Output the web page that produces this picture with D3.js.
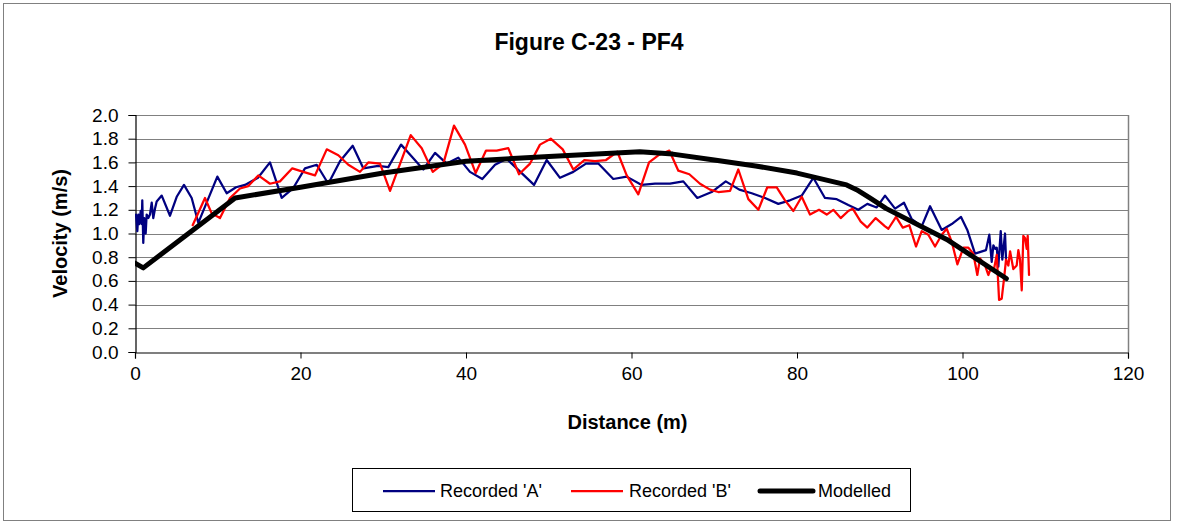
<!DOCTYPE html>
<html>
<head>
<meta charset="utf-8">
<script src="https://cdn.jsdelivr.net/npm/d3@7"></script>
<style>
  html, body { margin: 0; padding: 0; background: #fff; }
  svg { display: block; font-family: Arial, "Liberation Sans", sans-serif; }
</style>
</head>
<body>
<svg id="chart" width="1179" height="525"></svg>
<script>
// Velocity profile PF4: two recorded traverses and the modelled curve
const chartTitle = "Figure C-23 - PF4";
const xTitle = "Distance (m)";
const yTitle = "Velocity (m/s)";
const seriesNames = ["Recorded 'A'", "Recorded 'B'", "Modelled"];
const xTicks = [0, 20, 40, 60, 80, 100, 120];
const yTicks = [0.0, 0.2, 0.4, 0.6, 0.8, 1.0, 1.2, 1.4, 1.6, 1.8, 2.0];

const distA = [0.12, 0.28, 0.40, 0.52, 0.69, 0.81, 0.88, 1.00, 1.12, 1.29, 1.41, 1.61, 1.81, 2.02, 2.21, 2.42, 2.62,
  3.23, 4.23, 5.04, 5.92, 6.85, 7.65, 9.95, 11.08, 12.21, 13.29, 14.86, 16.31, 17.73, 19.09, 20.54, 21.96,
  23.36, 24.77, 26.31, 27.59, 29.40, 30.61, 32.15, 33.44, 34.84, 36.26, 37.67, 39.07, 40.48, 41.97, 43.51,
  44.92, 48.22, 49.75, 51.36, 52.97, 54.50, 55.99, 57.80, 59.42, 61.23, 62.84, 64.65, 66.26, 67.95, 69.69,
  71.39, 73.03, 74.53, 76.14, 77.74, 79.15, 80.57, 81.97, 83.38, 84.80, 86.20, 87.41, 88.50, 89.63, 90.64,
  91.85, 92.93, 93.87, 95.07, 96.08, 97.49, 98.70, 99.82, 100.58, 101.51, 102.84, 103.24, 103.53, 103.73,
  103.97, 104.14, 104.33, 104.62, 104.81, 105.14, 105.26];
const velA = [1.16, 1.02, 1.16, 1.08, 1.19, 1.08, 1.28, 0.92, 1.13, 1.00, 1.16, 1.13, 1.16, 1.26, 1.13, 1.21, 1.27,
  1.32, 1.15, 1.31, 1.41, 1.30, 1.09, 1.48, 1.34, 1.39, 1.41, 1.47, 1.60, 1.30, 1.38, 1.55, 1.58,
  1.42, 1.61, 1.74, 1.55, 1.57, 1.56, 1.75, 1.65, 1.54, 1.68, 1.59, 1.64, 1.52, 1.46, 1.58,
  1.63, 1.41, 1.62, 1.47, 1.52, 1.59, 1.59, 1.46, 1.48, 1.41, 1.42, 1.42, 1.44, 1.30, 1.35,
  1.44, 1.37, 1.34, 1.30, 1.25, 1.28, 1.32, 1.47, 1.30, 1.29, 1.24, 1.20, 1.25, 1.22, 1.32,
  1.21, 1.26, 1.12, 1.06, 1.23, 1.03, 1.08, 1.14, 1.03, 0.83, 0.86, 0.99, 0.76, 0.90,
  0.87, 0.88, 0.72, 1.02, 0.78, 1.00, 0.78];

const distB = [6.97, 8.46, 9.27, 10.27, 11.48, 12.69, 13.69, 14.90, 16.31, 17.52, 19.01, 20.34, 21.75, 23.17,
  24.57, 25.78, 27.19, 28.19, 29.61, 30.82, 33.32, 34.65, 35.98, 37.26, 38.55, 39.88, 41.17, 42.42, 43.71,
  45.11, 46.41, 47.74, 48.94, 50.24, 51.69, 52.97, 54.30, 55.59, 56.92, 58.29, 59.42, 60.82, 62.12, 63.24,
  64.57, 65.66, 66.99, 68.28, 69.49, 70.49, 71.91, 72.91, 74.12, 75.33, 76.41, 77.55, 78.55, 79.56, 80.57,
  81.57, 82.66, 83.59, 84.39, 85.28, 86.20, 86.73, 87.70, 88.50, 89.51, 90.64, 91.04, 91.97, 92.78, 93.57,
  94.38, 95.07, 95.87, 96.68, 97.49, 98.09, 98.70, 99.38, 100.11, 100.71, 101.31, 101.79, 102.12, 102.72,
  103.12, 103.45, 103.81, 104.14, 104.42, 104.74, 105.02, 105.26, 105.54, 105.75, 106.14, 106.55, 106.75,
  106.95, 107.16, 107.35, 107.56, 107.76, 107.88, 108.04];
const velB = [1.07, 1.30, 1.17, 1.13, 1.30, 1.38, 1.40, 1.49, 1.42, 1.44, 1.55, 1.52, 1.49, 1.71,
  1.66, 1.58, 1.52, 1.60, 1.59, 1.36, 1.83, 1.72, 1.52, 1.59, 1.91, 1.75, 1.51, 1.70, 1.70,
  1.72, 1.50, 1.59, 1.75, 1.80, 1.71, 1.54, 1.62, 1.61, 1.62, 1.69, 1.49, 1.33, 1.60, 1.66,
  1.70, 1.53, 1.50, 1.42, 1.37, 1.35, 1.36, 1.54, 1.29, 1.20, 1.39, 1.39, 1.28, 1.19, 1.31,
  1.16, 1.20, 1.16, 1.20, 1.13, 1.19, 1.21, 1.10, 1.05, 1.13, 1.06, 1.04, 1.14, 1.05, 1.07,
  0.89, 1.02, 0.99, 0.89, 0.99, 1.04, 0.93, 0.74, 0.88, 0.88, 0.83, 0.65, 0.79, 0.73,
  0.65, 0.71, 0.70, 0.82, 0.44, 0.45, 0.62, 0.78, 0.73, 0.85, 0.70, 0.73, 0.86,
  0.78, 0.52, 0.98, 0.96, 0.87, 0.98, 0.65];

const distM = [0, 1.0, 12.1, 20, 30, 40, 50, 61, 65, 70, 75, 80, 86, 87.2, 88.8, 90.8, 98.1, 105.3];
const velM = [0.75, 0.71, 1.30, 1.39, 1.51, 1.61, 1.65, 1.69, 1.67, 1.62, 1.57, 1.51, 1.41, 1.37, 1.30, 1.21, 0.95, 0.62];

const colors = ["#000080", "#FF0000", "#000000"];
const widths = [2.25, 2.25, 5];

const svg = d3.select("#chart");
const plot = { left: 135, right: 1128, top: 115, bottom: 352 };

// Outer chart frame
svg.append("rect")
  .attr("x", 3.5).attr("y", 3.5).attr("width", 1167).attr("height", 517)
  .attr("fill", "#fff").attr("stroke", "#808080").attr("stroke-width", 1);

const x = d3.scaleLinear().domain([0, 120]).range([plot.left, plot.right]);
const y = d3.scaleLinear().domain([0, 2]).range([plot.bottom, plot.top]);

// Horizontal gridlines
svg.append("g")
  .selectAll("line")
  .data(yTicks.filter(v => v > 0))
  .join("line")
  .attr("x1", plot.left).attr("x2", plot.right)
  .attr("y1", d => Math.round(y(d)) + 0.5).attr("y2", d => Math.round(y(d)) + 0.5)
  .attr("stroke", "#808080").attr("stroke-width", 1);

// Plot area right border
svg.append("line")
  .attr("x1", plot.right + 0.5).attr("x2", plot.right + 0.5)
  .attr("y1", plot.top).attr("y2", plot.bottom)
  .attr("stroke", "#808080").attr("stroke-width", 1.5);

// Axes
const yAxis = d3.axisLeft(y).tickValues(yTicks).tickFormat(d3.format(".1f")).tickSize(7).tickPadding(10);
const xAxis = d3.axisBottom(x).tickValues(xTicks).tickFormat(d3.format("d")).tickSize(6).tickPadding(8);

const gy = svg.append("g").attr("transform", `translate(${plot.left + 0.5},0)`).call(yAxis);
const gx = svg.append("g").attr("transform", `translate(0,${plot.bottom + 0.5})`).call(xAxis);
[gx, gy].forEach(g => {
  g.select(".domain").attr("stroke", "#000").attr("stroke-width", 1.2);
  g.selectAll(".tick line").attr("stroke", "#000");
  g.selectAll(".tick text").attr("fill", "#000")
    .style("font-family", "Arial, 'Liberation Sans', sans-serif").style("font-size", "19px");
});

// Series lines
const line = d3.line().x(d => x(d[0])).y(d => y(d[1]));
const series = [
  d3.zip(distA, velA),
  d3.zip(distB, velB),
  d3.zip(distM, velM)
];
svg.append("clipPath").attr("id", "plotclip")
  .append("rect").attr("x", plot.left).attr("y", plot.top - 10)
  .attr("width", plot.right - plot.left).attr("height", plot.bottom - plot.top + 10);
series.forEach((s, i) => {
  svg.append("path")
    .datum(s)
    .attr("d", line)
    .attr("fill", "none")
    .attr("stroke", colors[i])
    .attr("stroke-width", widths[i])
    .attr("stroke-linejoin", "round")
    .attr("stroke-linecap", "round")
    .attr("clip-path", "url(#plotclip)");
});

// Titles
svg.append("text")
  .attr("x", 589).attr("y", 50)
  .attr("text-anchor", "middle")
  .style("font-weight", "bold").style("font-size", "23px")
  .text(chartTitle);

svg.append("text")
  .attr("x", (plot.left + plot.right) / 2 - 4).attr("y", 429)
  .attr("text-anchor", "middle")
  .style("font-weight", "bold").style("font-size", "20px")
  .text(xTitle);

svg.append("text")
  .attr("transform", `translate(67,${(plot.top + plot.bottom) / 2}) rotate(-90)`)
  .attr("text-anchor", "middle")
  .style("font-weight", "bold").style("font-size", "20px")
  .text(yTitle);

// Legend
const legend = svg.append("g");
legend.append("rect")
  .attr("x", 352.5).attr("y", 468.5).attr("width", 558).attr("height", 43)
  .attr("fill", "#fff").attr("stroke", "#000").attr("stroke-width", 1);
const legendItems = [
  { x1: 383, x2: 435, tx: 440 },
  { x1: 571, x2: 623, tx: 629 },
  { x1: 760, x2: 813, tx: 818 }
];
legendItems.forEach((it, i) => {
  legend.append("line")
    .attr("x1", it.x1).attr("x2", it.x2).attr("y1", 491).attr("y2", 491)
    .attr("stroke", colors[i]).attr("stroke-width", widths[i])
    .attr("stroke-linecap", i === 2 ? "round" : "butt");
  legend.append("text")
    .attr("x", it.tx).attr("y", 497)
    .style("font-size", "18px")
    .text(seriesNames[i]);
});
</script>
</body>
</html>
